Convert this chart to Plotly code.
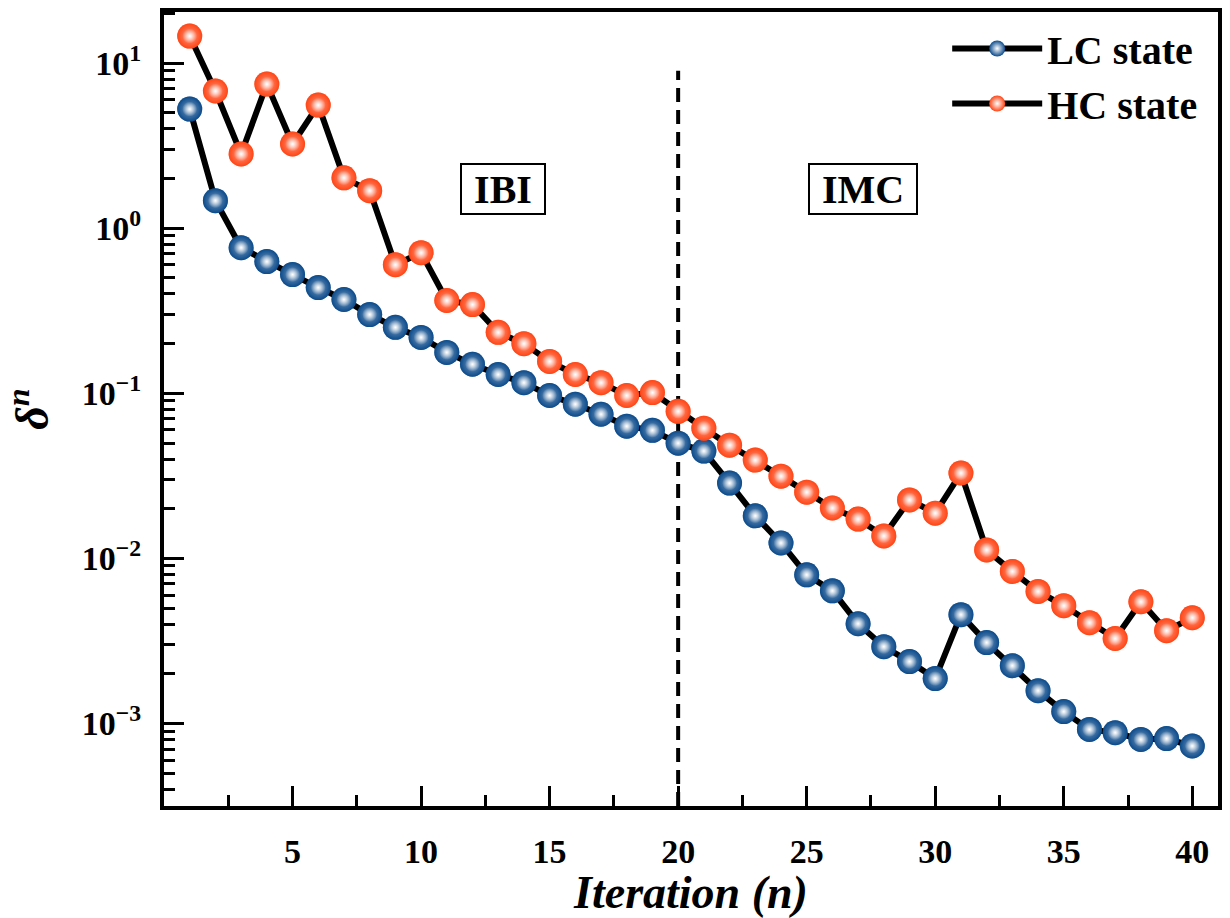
import plotly.graph_objects as go

# Convergence of the error metric over iterations
iterations = list(range(1, 41))

lc_state = [5.27, 1.47, 0.762, 0.628, 0.524, 0.437, 0.370, 0.300, 0.251, 0.218,
            0.177, 0.150, 0.130, 0.116, 0.097, 0.0859, 0.0747, 0.0632, 0.0597, 0.0499,
            0.0447, 0.0286, 0.0181, 0.0124, 0.00795, 0.00636, 0.00402, 0.00292, 0.00237, 0.00187,
            0.00456, 0.00309, 0.00224, 0.00158, 0.00118, 0.00092, 0.00088, 0.00080, 0.00081, 0.00073]

hc_state = [14.6, 6.78, 2.82, 7.47, 3.24, 5.57, 2.02, 1.69, 0.601, 0.711,
            0.365, 0.345, 0.234, 0.200, 0.156, 0.130, 0.116, 0.097, 0.101, 0.0778,
            0.0615, 0.0485, 0.0394, 0.0315, 0.0252, 0.0202, 0.0173, 0.01368, 0.0226, 0.0188,
            0.0329, 0.01125, 0.00834, 0.00631, 0.00517, 0.00408, 0.00327, 0.00546, 0.00365, 0.00437]

x_ticks = [5, 10, 15, 20, 25, 30, 35, 40]
y_ticks = [1e-3, 1e-2, 1e-1, 1, 10]
y_ticktext = ["10<sup>\u22123</sup>", "10<sup>\u22122</sup>", "10<sup>\u22121</sup>",
              "10<sup>0</sup>", "10<sup>1</sup>"]
y_minor = [m * 10.0 ** e for e in range(-4, 2) for m in range(2, 10)]

# Stage boundary and stage labels
switch_iter = 20
switch_top = 9.0
stage_labels = [("IBI", 13.2), ("IMC", 27.2)]
stage_label_y = 1.73

FONT = "Liberation Serif"
BLUE = "#0b4a8b"
ORANGE = "#ff4515"

fig = go.Figure()

for name, vals, col in [("LC state", lc_state, BLUE), ("HC state", hc_state, ORANGE)]:
    # line + solid ball
    fig.add_trace(go.Scatter(
        x=iterations, y=vals, name=name, mode="lines+markers",
        line=dict(color="black", width=6),
        marker=dict(size=25, color=col, line=dict(width=0),
                    gradient=dict(type="radial", color="white")),
    ))
    # glossy highlight on top of each ball
    fig.add_trace(go.Scatter(
        x=iterations, y=vals, mode="markers", showlegend=False, hoverinfo="skip",
        marker=dict(size=25, color=col, line=dict(width=0), opacity=0.55),
    ))
    fig.add_trace(go.Scatter(
        x=iterations, y=vals, mode="markers", showlegend=False, hoverinfo="skip",
        marker=dict(size=15, color="rgba(255,255,255,0)", line=dict(width=0),
                    gradient=dict(type="radial", color="white")),
    ))

# dashed separator between the two stages
fig.add_shape(type="line", x0=switch_iter, x1=switch_iter, xref="x",
              y0=10 ** -3.5, y1=switch_top, yref="y", layer="below",
              line=dict(color="black", width=4, dash="14px,8px"))

for text, xpos in stage_labels:
    fig.add_annotation(x=xpos, y=0.238, xref="x", yref="y", text=f"<b>{text}</b>",
                       showarrow=False, font=dict(family=FONT, size=40, color="black"),
                       width=80 if text == "IBI" else 104, height=46,
                       bordercolor="black", borderwidth=2, borderpad=1, bgcolor="white")

axis_common = dict(
    showline=True, linecolor="black", linewidth=4, mirror=True,
    ticks="inside", ticklen=20, tickwidth=3, tickcolor="black",
    showgrid=False, zeroline=False,
    tickfont=dict(family=FONT, size=34, color="black", weight="bold"),
)

fig.update_xaxes(
    **axis_common, range=[0, 41], tickmode="array", tickvals=x_ticks,
    minor=dict(ticks="inside", ticklen=11, tickwidth=3, tickcolor="black",
               tickmode="linear", tick0=0, dtick=2.5, showgrid=False),
    title=dict(text="<b><i>Iteration (n)</i></b>", standoff=8,
               font=dict(family=FONT, size=46, color="black")),
    ticklabelstandoff=12,
)
fig.update_yaxes(
    **axis_common, type="log", range=[-3.5, 1.31], tickmode="array",
    tickvals=y_ticks, ticktext=y_ticktext,
    minor=dict(ticks="inside", ticklen=11, tickwidth=3, tickcolor="black",
               tickmode="array", tickvals=y_minor, showgrid=False),
    title=dict(text="<b><i>\u03b4<sup>n</sup></i></b>", standoff=20,
               font=dict(family=FONT, size=46, color="black")),
    ticklabelstandoff=12,
)

fig.update_layout(
    width=1230, height=918,
    margin=dict(l=164, r=8, t=12, b=110),
    paper_bgcolor="white", plot_bgcolor="white",
    legend=dict(x=0.985, xanchor="right", y=0.995, yanchor="top",
                bgcolor="rgba(0,0,0,0)", itemwidth=90, tracegroupgap=0,
                font=dict(family=FONT, size=40, color="black", weight="bold")),
)

fig.write_html("out.html")
